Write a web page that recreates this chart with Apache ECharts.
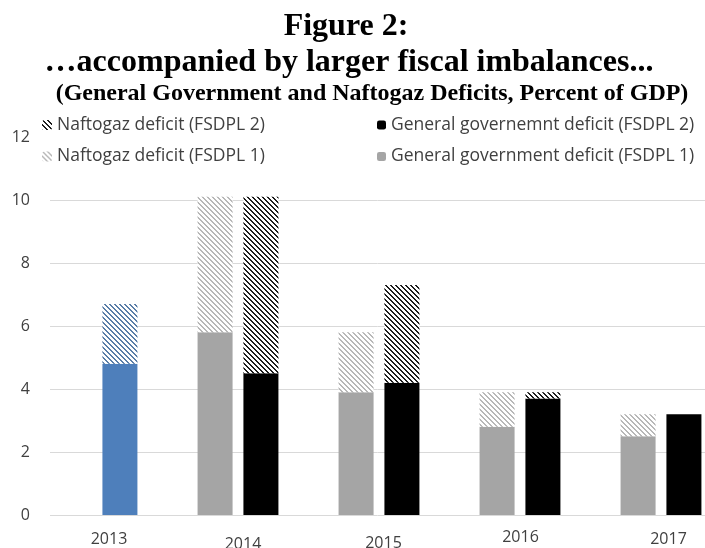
<!DOCTYPE html>
<html>
<head>
<meta charset="utf-8">
<script src="https://cdn.jsdelivr.net/npm/echarts@6/dist/echarts.min.js"></script>
<style>
  html, body { margin: 0; padding: 0; background: #fff; }
  #chart { width: 705px; height: 548px; }
</style>
</head>
<body>
<div id="chart"></div>
<script>
  // data (percent of GDP)
  var years = ['2013', '2014', '2015', '2016', '2017']
  var ggDeficit1 = [null, 5.8, 3.9, 2.8, 2.5]        // General government deficit (FSDPL 1)
  var naftogaz1 = [null, 4.3, 1.9, 1.1, 0.7]         // Naftogaz deficit (FSDPL 1), on top
  var ggDeficit2 = [4.8, 4.5, 4.2, 3.7, 3.2]         // General governemnt deficit (FSDPL 2)
  var naftogaz2 = [1.9, 5.6, 3.1, 0.2, 0]            // Naftogaz deficit (FSDPL 2), on top
  var yTicks = [0, 2, 4, 6, 8, 10, 12]

  var BLUE = '#4e7fbb'

  // diagonal hatch fill, lines going down to the right
  function hatch(color, size, thick) {
    var c = document.createElement('canvas')
    c.width = size
    c.height = size
    var ctx = c.getContext('2d')
    ctx.fillStyle = '#fff'
    ctx.fillRect(0, 0, size, size)
    ctx.fillStyle = color
    for (var x = 0; x < size; x++) {
      for (var y = 0; y < size; y++) {
        if ((((x - y) % size) + size) % size < thick) ctx.fillRect(x, y, 1, 1)
      }
    }
    return { image: c, repeat: 'repeat' }
  }

  var lightHatch = hatch('#b8b8b8', 5, 2)
  var darkHatch = hatch('#1e1e1e', 5, 2)
  var blueHatch = hatch('#5a7ea8', 5, 2)

  // small nudges of the year labels as they sit in the original
  var labelPad = [[2, 0, 0, 24], [7, 0, 0, 10], [6, 0, 0, 9], [0, 0, 0, 1], [2, 0, 0, 15]]
  var rich = {}
  labelPad.forEach(function (p, i) {
    rich['l' + i] = { padding: p, fontFamily: 'Open Sans', fontSize: 16, color: '#404040' }
  })

  var titleFont = { fontFamily: 'Liberation Serif', fontWeight: 'bold', color: '#000' }
  var legendFont = { fontFamily: 'Open Sans', fontSize: 17.5, color: '#404040' }

  var chart = echarts.init(document.getElementById('chart'))
  chart.setOption({
    backgroundColor: '#fff',
    animation: false,
    title: [
      {
        text: 'Figure 2:', left: 346, top: 11, textAlign: 'center', padding: 0,
        textStyle: Object.assign({ fontSize: 32 }, titleFont)
      },
      {
        text: '…accompanied by larger fiscal imbalances...', left: 349, top: 47, textAlign: 'center', padding: 0,
        textStyle: Object.assign({ fontSize: 32 }, titleFont)
      },
      {
        text: '(General Government and Naftogaz Deficits, Percent of GDP)', left: 372, top: 82, textAlign: 'center', padding: 0,
        textStyle: Object.assign({ fontSize: 24 }, titleFont)
      }
    ],
    legend: [
      {
        orient: 'vertical',
        left: 42,
        top: 116,
        padding: 0,
        itemWidth: 10,
        itemHeight: 10,
        itemGap: 13.5,
        data: ['Naftogaz deficit (FSDPL 2)', 'Naftogaz deficit (FSDPL 1)'],
        textStyle: legendFont
      },
      {
        orient: 'vertical',
        left: 377,
        top: 116,
        padding: 0,
        itemWidth: 9,
        itemHeight: 9,
        itemGap: 13.5,
        data: ['General governemnt deficit (FSDPL 2)', 'General government deficit (FSDPL 1)'],
        textStyle: legendFont
      }
    ],
    grid: [
      { left: 50, right: 0, top: 137, bottom: 33, outerBoundsMode: 'none' },
      { left: 26.5, right: -26.5, top: 137, bottom: 33, outerBoundsMode: 'none' }
    ],
    xAxis: [
      { gridIndex: 0, type: 'category', data: years, show: false },
      {
        gridIndex: 1,
        type: 'category',
        data: years,
        axisLine: { show: false },
        axisTick: { show: false },
        axisLabel: {
          margin: 14,
          interval: 0,
          formatter: function (v, i) { return '{l' + i + '|' + v + '}' },
          rich: rich
        }
      }
    ],
    yAxis: [
      {
        gridIndex: 0,
        type: 'value',
        min: yTicks[0],
        max: yTicks[yTicks.length - 1],
        interval: 2,
        axisLine: { show: false },
        axisTick: { show: false },
        axisLabel: { margin: 20, fontFamily: 'Open Sans', fontSize: 16, color: '#404040' },
        splitLine: { showMaxLine: false, lineStyle: { color: '#d9d9d9', width: 1 } }
      },
      {
        gridIndex: 1,
        type: 'value',
        min: yTicks[0],
        max: yTicks[yTicks.length - 1],
        show: false,
        splitLine: { show: false }
      }
    ],
    series: [
      {
        name: 'General government deficit (FSDPL 1)',
        type: 'bar', stack: 'fsdpl1', xAxisIndex: 1, yAxisIndex: 1,
        barWidth: 35, barGap: '31%',
        itemStyle: { color: '#a5a5a5' },
        data: ggDeficit1
      },
      {
        name: 'Naftogaz deficit (FSDPL 1)',
        type: 'bar', stack: 'fsdpl1', xAxisIndex: 1, yAxisIndex: 1,
        barWidth: 35, barGap: '31%',
        itemStyle: { color: lightHatch },
        data: naftogaz1
      },
      {
        name: 'General governemnt deficit (FSDPL 2)',
        type: 'bar', stack: 'fsdpl2', xAxisIndex: 1, yAxisIndex: 1,
        barWidth: 35, barGap: '31%',
        itemStyle: { color: '#000' },
        // 2013 is drawn in blue in the original
        data: ggDeficit2.map(function (v, i) {
          return i === 0 ? { value: v, itemStyle: { color: BLUE } } : v
        })
      },
      {
        name: 'Naftogaz deficit (FSDPL 2)',
        type: 'bar', stack: 'fsdpl2', xAxisIndex: 1, yAxisIndex: 1,
        barWidth: 35, barGap: '31%',
        itemStyle: { color: darkHatch },
        data: naftogaz2.map(function (v, i) {
          return i === 0 ? { value: v, itemStyle: { color: blueHatch } } : v
        })
      }
    ]
  })
</script>
</body>
</html>
